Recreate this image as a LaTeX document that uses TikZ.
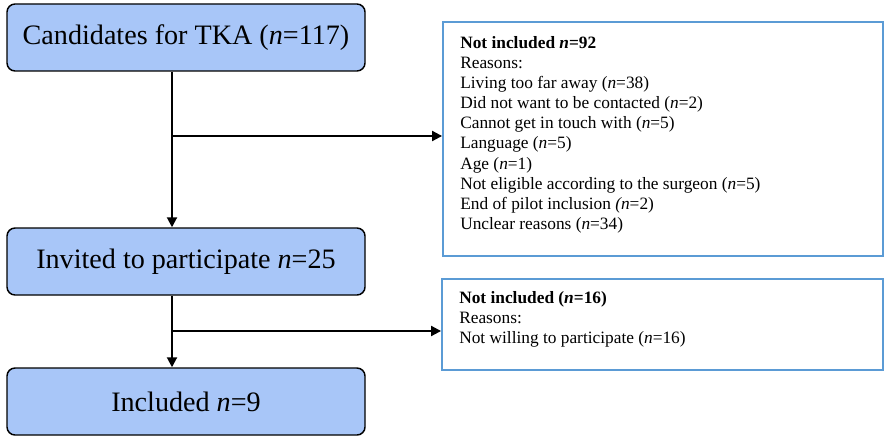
\documentclass[tikz,border=0pt]{standalone}
\usepackage{fontspec}
\setmainfont{Liberation Serif}
\usetikzlibrary{arrows.meta}
\definecolor{stagefill}{RGB}{168,198,248}
\definecolor{notebdr}{RGB}{91,155,213}
\begin{document}
\begin{tikzpicture}[x=0.75pt,y=-0.75pt,
  stagebox/.style={draw=black,line width=1.1pt,fill=stagefill,rounded corners=6pt,
    minimum width=268.5pt,minimum height=50.25pt,inner sep=0pt,
    font=\fontsize{21.1}{25}\selectfont},
  notebox/.style={draw=notebdr,line width=1.4pt,fill=white,inner sep=0pt},
  notetext/.style={anchor=north west,align=left,inner sep=0pt,
    font=\fontsize{13}{15.1}\selectfont},
  flow/.style={line width=1.5pt,-{Triangle[length=7.5pt,width=7.5pt]}}]
\useasboundingbox (0,0) rectangle (884,435);

% main stages
\node[stagebox] (cand) at (186,37.5) {Candidates for TKA (\textit{n}=117)};
\node[stagebox] (inv)  at (186,261.5) {Invited to participate \textit{n}=25};
\node[stagebox] (inc)  at (186,401.5) {Included \textit{n}=9};

% exclusion boxes
\node[notebox,minimum width=330pt,minimum height=175.5pt] (ex1) at (663,139) {};
\node[notetext] (ex1t) at (460,36) {\textbf{Not included \textit{n}=92}\\
Reasons:\\
Living too far away (\textit{n}=38)\\
Did not want to be contacted (\textit{n}=2)\\
Cannot get in touch with (\textit{n}=5)\\
Language (\textit{n}=5)\\
Age (\textit{n}=1)\\
Not eligible according to the surgeon (\textit{n}=5)\\
End of pilot inclusion \textit{(n}=2)\\
Unclear reasons (\textit{n}=34)};

\node[notebox,minimum width=330.75pt,minimum height=68.25pt] (ex2) at (662.5,324.5) {};
\node[notetext] (ex2t) at (459,291) {\textbf{Not included (\textit{n}=16)}\\
Reasons:\\
Not willing to participate (\textit{n}=16)};

% connectors
\coordinate (spine) at (172,0);
\coordinate (j1) at (172,136);
\coordinate (j2) at (172,331);
\draw[flow] (spine |- cand.south) -- (spine |- inv.north);
\draw[flow] (j1) -- (j1 -| ex1.west);
\draw[flow] (spine |- inv.south) -- (spine |- inc.north);
\draw[flow] (j2) -- (j2 -| ex2.west);
\end{tikzpicture}
\end{document}
